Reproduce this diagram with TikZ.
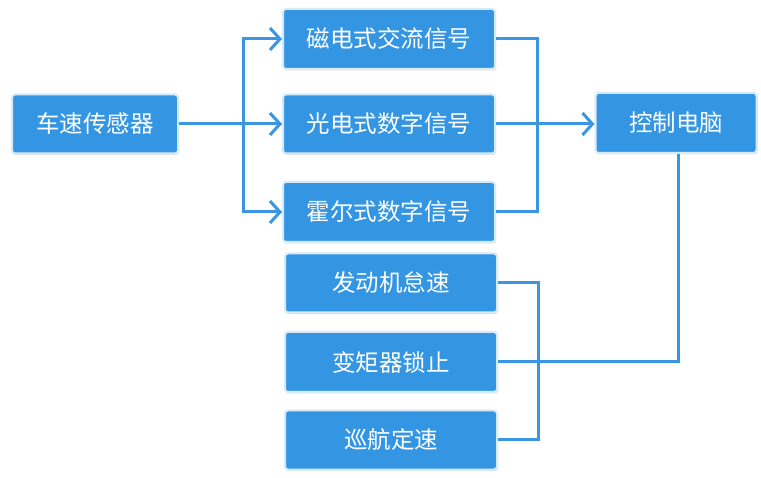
\documentclass[tikz,border=0pt]{standalone}
\usepackage{fontspec}
\newfontfamily\cjk{Noto Sans CJK SC}
\usetikzlibrary{arrows.meta,shadows}
\definecolor{boxblue}{RGB}{52,150,226}
\definecolor{lineblue}{RGB}{58,150,226}
\definecolor{rimblue}{RGB}{214,234,250}
\tikzset{
  box/.style={rectangle, rounded corners=3pt, fill=boxblue, draw=rimblue, line width=2pt,
    text=white, font=\cjk\fontsize{23.5}{26}\selectfont, inner sep=0pt,
    drop shadow={shadow xshift=1pt, shadow yshift=-1.5pt, fill=black!25, opacity=0.5}},
  conn/.style={draw=lineblue, line width=3pt},
  arr/.style={conn, -{Straight Barb[length=10pt,width=22pt,line width=3pt]}}
}
\begin{document}
\begin{tikzpicture}[x=1pt,y=-1pt]
\useasboundingbox[fill=white] (0,0) rectangle (761,478);
\node[box, minimum width=166pt, minimum height=59pt] (sensor) at (95,124) {车速传感器};
\node[box, minimum width=212pt, minimum height=60pt] (mag) at (389,39) {磁电式交流信号};
\node[box, minimum width=212pt, minimum height=59pt] (opt) at (389,124) {光电式数字信号};
\node[box, minimum width=212pt, minimum height=60pt] (hall) at (389,212) {霍尔式数字信号};
\node[box, minimum width=212pt, minimum height=59pt] (idle) at (391,283) {发动机怠速};
\node[box, minimum width=212pt, minimum height=60pt] (lock) at (391,362) {变矩器锁止};
\node[box, minimum width=212pt, minimum height=59pt] (cruise) at (391,440) {巡航定速};
\node[box, minimum width=161pt, minimum height=60pt] (ecu) at (676,123) {控制电脑};
\coordinate (sp) at (243,124);
\coordinate (jp) at (537,124);
\draw[conn] (sensor.east) -- (sp);
\draw[arr] (sp) |- (mag.west);
\draw[arr] (sp) -- (opt.west);
\draw[arr] (sp) |- (hall.west);
\draw[conn] (mag.east) -| (jp) |- (hall.east);
\draw[arr] (opt.east) -- (opt.east -| ecu.west);
\draw[conn] ([xshift=2pt]ecu.south) |- (lock.east);
\draw[conn] (idle.east) -- ++(40,0) |- (cruise.east);
\end{tikzpicture}
\end{document}
